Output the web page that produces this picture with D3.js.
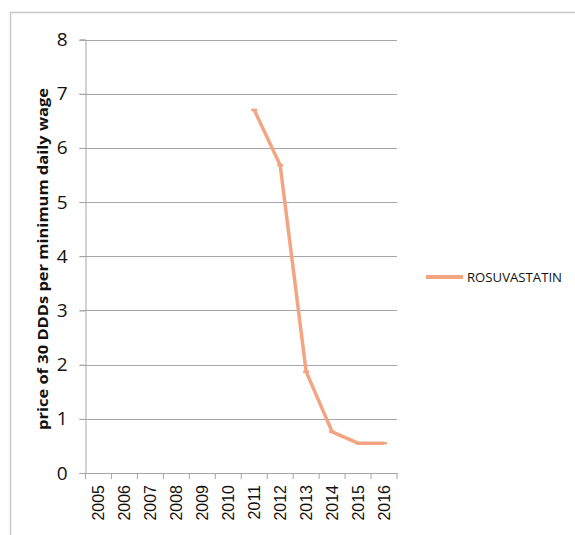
<!DOCTYPE html>
<html>
<head>
<meta charset="utf-8">
<script src="https://cdn.jsdelivr.net/npm/d3@7"></script>
<style>
  body { margin: 0; background: #fff; }
  svg { display: block; }
</style>
</head>
<body>
<div id="chart"></div>
<script>
// years on the x axis (category axis)
const years = ["2005", "2006", "2007", "2008", "2009", "2010", "2011", "2012", "2013", "2014", "2015", "2016"];
// series values, null where there is no data
const rosuvastatin = [null, null, null, null, null, null, 6.7, 5.68, 1.87, 0.76, 0.55, 0.55];
const seriesName = "ROSUVASTATIN";
const yTicks = [0, 1, 2, 3, 4, 5, 6, 7, 8];
const yTitle = "price of 30 DDDs per minimum daily wage";

const width = 575, height = 535;
const margin = { top: 39.5, left: 85.5, right: 575 - 397, bottom: 535 - 473 };
const lineColor = "#f3a583";

const svg = d3.select("#chart")
  .append("svg")
  .attr("width", width)
  .attr("height", height);

// outer frame: only top and left edges show
svg.append("path")
  .attr("d", "M10.5,535 V12.5 H575")
  .attr("fill", "none")
  .attr("stroke", "#c8c8c8")
  .attr("stroke-width", 1.5);

const x = d3.scaleBand()
  .domain(years)
  .range([margin.left, width - margin.right]);

const y = d3.scaleLinear()
  .domain([0, 8])
  .range([height - margin.bottom, margin.top]);

// gridlines
svg.append("g")
  .selectAll("line")
  .data(yTicks.filter(d => d > 0))
  .join("line")
  .attr("x1", margin.left - 6)
  .attr("x2", width - margin.right)
  .attr("y1", d => Math.round(y(d)) + 0.5)
  .attr("y2", d => Math.round(y(d)) + 0.5)
  .attr("stroke", "#a6a6a6")
  .attr("stroke-width", 1);

// y axis
const yAxis = svg.append("g")
  .attr("transform", `translate(${margin.left},0)`)
  .call(d3.axisLeft(y).tickValues(yTicks).tickSize(6).tickPadding(12));
yAxis.select(".domain").attr("stroke", "#a6a6a6");
yAxis.selectAll(".tick line").attr("stroke", "#a6a6a6");
yAxis.selectAll("text")
  .attr("font-family", "'Open Sans', 'Noto Sans', sans-serif")
  .attr("font-size", 19)
  .attr("fill", "#111");

// x axis with ticks between categories
const xAxis = svg.append("g")
  .attr("transform", `translate(0,${height - margin.bottom})`)
  .call(d3.axisBottom(x).tickSize(0).tickSizeOuter(0));
xAxis.select(".domain").attr("stroke", "#a6a6a6");
xAxis.selectAll(".tick text")
  .attr("font-family", "'Liberation Sans', Arial, sans-serif")
  .attr("font-size", 16)
  .attr("fill", "#111")
  .attr("transform", "rotate(-90)")
  .attr("text-anchor", "end")
  .attr("dy", "0.35em")
  .attr("x", -12)
  .attr("y", 0);
svg.append("g")
  .selectAll("line")
  .data(years.concat(["end"]))
  .join("line")
  .attr("x1", (d, i) => margin.left + i * x.step())
  .attr("x2", (d, i) => margin.left + i * x.step())
  .attr("y1", height - margin.bottom)
  .attr("y2", height - margin.bottom + 6)
  .attr("stroke", "#a6a6a6");
// left stub of x axis
svg.append("line")
  .attr("x1", margin.left - 6).attr("x2", margin.left)
  .attr("y1", height - margin.bottom + 0.5).attr("y2", height - margin.bottom + 0.5)
  .attr("stroke", "#a6a6a6");

// y title
svg.append("text")
  .attr("transform", "translate(48,259) rotate(-90)")
  .attr("text-anchor", "middle")
  .attr("font-family", "'Open Sans', 'Noto Sans', sans-serif")
  .attr("font-weight", "bold")
  .attr("font-size", 14.5)
  .attr("textLength", 342)
  .attr("lengthAdjust", "spacingAndGlyphs")
  .attr("fill", "#111")
  .text(yTitle);

// series line
const pts = years.map((d, i) => ({ year: d, value: rosuvastatin[i] }));
const line = d3.line()
  .defined(d => d.value != null)
  .x(d => x(d.year) + x.bandwidth() / 2)
  .y(d => y(d.value));

svg.append("path")
  .datum(pts)
  .attr("d", line)
  .attr("fill", "none")
  .attr("stroke", lineColor)
  .attr("stroke-width", 3.5)
  .attr("stroke-linejoin", "round");

// dash markers
svg.append("g")
  .selectAll("line")
  .data(pts.filter(d => d.value != null))
  .join("line")
  .attr("x1", d => x(d.year) + x.bandwidth() / 2 - 3)
  .attr("x2", d => x(d.year) + x.bandwidth() / 2 + 3)
  .attr("y1", d => y(d.value))
  .attr("y2", d => y(d.value))
  .attr("stroke", lineColor)
  .attr("stroke-width", 2.5);

// legend
const lg = svg.append("g").attr("transform", "translate(426,277)");
lg.append("line")
  .attr("x1", 0).attr("x2", 37)
  .attr("stroke", lineColor)
  .attr("stroke-width", 4);
lg.append("text")
  .attr("x", 41)
  .attr("dy", "0.35em")
  .attr("font-family", "'Liberation Sans Narrow', 'Open Sans', sans-serif")
  .attr("font-size", 13.5)
  .attr("textLength", 95)
  .attr("lengthAdjust", "spacingAndGlyphs")
  .attr("fill", "#111")
  .text(seriesName);
</script>
</body>
</html>
